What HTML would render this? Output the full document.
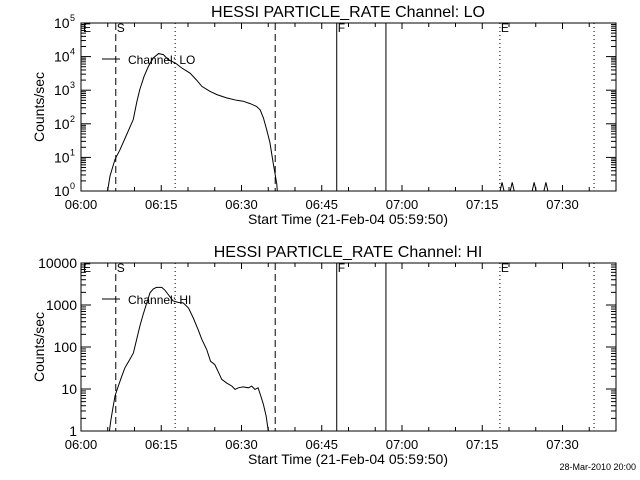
<!DOCTYPE html>
<html><head><meta charset="utf-8"><style>
html,body{margin:0;padding:0;background:#fff;}
svg{display:block;font-family:"Liberation Sans",sans-serif;}
</style></head><body>
<svg id="c" width="640" height="480" xmlns="http://www.w3.org/2000/svg"></svg>
<script>
// data (minutes after 06:00, counts/sec)
const loTimes=[4.97,5.42,6.36,7.29,8.54,9.78,10.4,11.0,11.8,12.6,13.5,14.5,15.4,16.3,17.6,18.8,20.4,21.6,22.6,24.1,25.4,27.2,29.1,30.3,31.6,32.8,33.5,34.1,34.7,35.3,35.9,36.6,36.7];
const loValues=[1,2.8,8.7,17,48,135,420,1050,2600,5100,9100,12300,11500,8100,6500,4600,3200,2000,1300,930,740,590,500,470,400,330,260,150,68,28,7,1.6,1];
const loSpikeTimes=[78.7,80.6,84.7,86.9];
const loSpikeValues=[1.8,1.8,1.8,1.8];
const hiTimes=[5.3,5.6,5.9,6.36,6.97,7.6,8.2,9.1,9.8,10.4,11.0,11.6,12.3,12.9,13.5,14.1,15.1,15.7,16.3,17.2,18.2,19.1,20.1,21.0,21.9,22.6,23.5,24.2,25.0,25.7,26.3,27.2,28.2,28.8,29.4,30.3,31.3,31.9,32.5,33.1,33.6,34.1,34.6,35.0];
const hiValues=[1,1.9,3.2,6.8,11.7,20,32,50,72,150,310,590,1120,1950,2400,2630,2630,2240,1780,1260,1150,1120,850,490,257,150,87,46,38,25,17,14,11.7,9.8,10.7,11.2,10.7,11.7,9.8,10.7,6.8,4.3,2.3,1];
const xTickLabels=["06:00","06:15","06:30","06:45","07:00","07:15","07:30"];
const xTickMinutes=[0,15,30,45,60,75,90];
const loDecades=[0,1,2,3,4,5];
const hiTickLabels=["1","10","100","1000","10000"];
const markerTimes=[6.5,17.6,36.3,47.8,57.0,78.3,95.9];
const markerStyles=["dash","dot","dash","solid","solid","dot","dot"];
const markerLetters=[["S",6.5],["F",47.8],["E",78.3]];

const NS="http://www.w3.org/2000/svg";
const svg=document.getElementById('c');
function el(t,a,p){const e=document.createElementNS(NS,t);for(const k in a)e.setAttribute(k,a[k]);(p||svg).appendChild(e);return e;}
const X0=81,X1=616,TMAX=100;
const xs=m=>X0+(X1-X0)*m/TMAX;

function panel(top,bot,decMax,title,chan,times,vals,ylabelsFn,name){
  const g=el('g',{});
  
  
  const ys=v=>bot-(bot-top)*Math.log10(Math.max(v,1))/decMax;
  const t=el('text',{x:348,y:top-6,'font-size':16,'text-anchor':'middle'},g);t.textContent=title;
  
  const fr=el('rect',{x:X0,y:top,width:X1-X0,height:bot-top,fill:'none',stroke:'#000','stroke-width':1},g);
  
  // x ticks
  for(let m=0;m<=TMAX;m+=5){
    const L=(m%15===0)?6:4;const x=xs(m);
    el('line',{x1:x,y1:bot,x2:x,y2:bot-L,stroke:'#000'},g);
    el('line',{x1:x,y1:top,x2:x,y2:top+L,stroke:'#000'},g);
  }
  xTickMinutes.forEach((m,i)=>{const tt=el('text',{x:xs(m),y:bot+18,'font-size':13,'text-anchor':'middle'},g);tt.textContent=xTickLabels[i];
    });
  const xt=el('text',{x:348,y:bot+33,'font-size':14,'text-anchor':'middle'},g);xt.textContent="Start Time (21-Feb-04 05:59:50)";
  
  const yt=el('text',{x:0,y:0,'font-size':14,'text-anchor':'middle',transform:`translate(44,${(top+bot)/2}) rotate(-90)`},g);yt.textContent="Counts/sec";
  
  // y ticks
  for(let d=0;d<decMax;d++){for(let k=1;k<10;k++){const y=ys(k*Math.pow(10,d));const L=k===1?10:5;
    el('line',{x1:X0,y1:y,x2:X0+L,y2:y,stroke:'#000'},g);el('line',{x1:X1,y1:y,x2:X1-L,y2:y,stroke:'#000'},g);}}
  el('line',{x1:X0,y1:top,x2:X0+10,y2:top,stroke:'#000'},g);
  ylabelsFn(g,ys);
  // markers
  markerTimes.forEach((m,i)=>{const a={x1:xs(m),y1:top,x2:xs(m),y2:bot,stroke:'#000'};
    if(markerStyles[i]==='dash')a['stroke-dasharray']='7,4';if(markerStyles[i]==='dot')a['stroke-dasharray']='1,3';
    const l=el('line',a,g);});
  markerLetters.forEach(([s,m])=>{const tt=el('text',{x:xs(m)+1,y:top+9,'font-size':12},g);tt.textContent=s;
    });
  const te=el('text',{x:X0+2,y:top+9,'font-size':12},g);te.textContent="E";
  
  // legend
  el('line',{x1:102,y1:top+36,x2:120,y2:top+36,stroke:'#000'},g);
  const lt=el('text',{x:128,y:top+41,'font-size':12},g);lt.textContent="Channel: "+chan;
  
  // series
  const pts=times.map((m,i)=>xs(m).toFixed(1)+','+ys(vals[i]).toFixed(1)).join(' ');
  const pl=el('polyline',{points:pts,fill:'none',stroke:'#000','stroke-width':1},g);
  
  return ys;
}
const ysLo=panel(23,191,5,"HESSI PARTICLE_RATE Channel: LO","LO",loTimes,loValues,(g,ys)=>{
  loDecades.forEach(d=>{const y=ys(Math.pow(10,d));const t=el('text',{x:54,y:y+5,'font-size':14},g);t.textContent="10";
    
    const s=el('text',{x:70,y:y-2,'font-size':9},g);s.textContent=String(d);});
},'lo');
loSpikeTimes.forEach((m,i)=>{const x=xs(m);const p=el('polyline',{points:`${x-2},191 ${x},${ysLo(loSpikeValues[i]).toFixed(1)} ${x+2},191`,fill:'none',stroke:'#000'});
  });
panel(263,431,4,"HESSI PARTICLE_RATE Channel: HI","HI",hiTimes,hiValues,(g,ys)=>{
  hiTickLabels.forEach((s,i)=>{const y=ys(Math.pow(10,i));const t=el('text',{x:77,y:y+5,'font-size':14,'text-anchor':'end'},g);t.textContent=s;
    });
},'hi');
const ft=el('text',{x:636,y:470,'font-size':9,'text-anchor':'end'});ft.textContent="28-Mar-2010 20:00";

</script>
</body></html>
